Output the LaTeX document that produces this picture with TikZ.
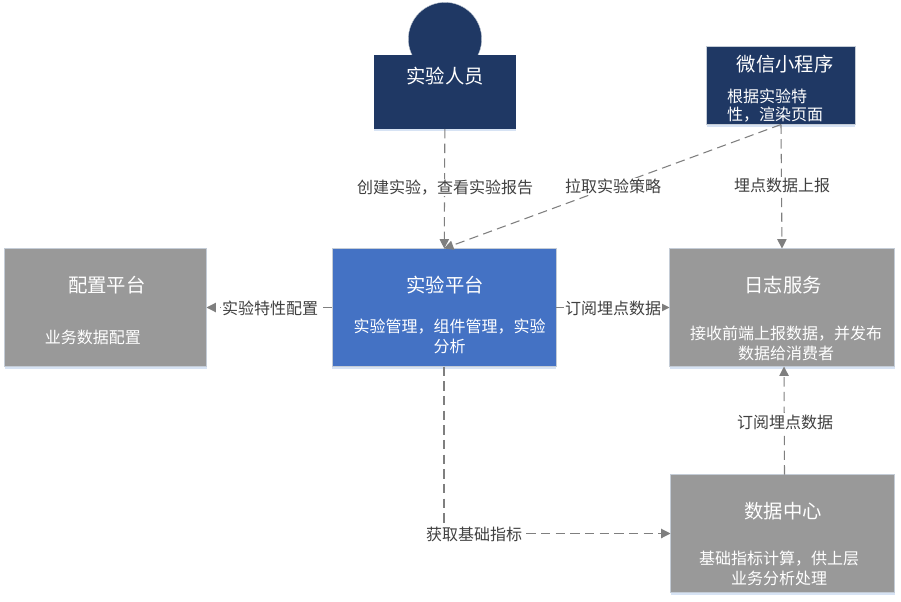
\documentclass[tikz,border=0pt]{standalone}
\usepackage{fontspec}
\setmainfont{Noto Sans CJK SC}
\usetikzlibrary{arrows.meta,shadows}
\definecolor{navy}{HTML}{1F3864}
\definecolor{platblue}{HTML}{4472C4}
\definecolor{boxgray}{HTML}{999999}
\definecolor{linegray}{HTML}{7F7F7F}
\definecolor{textgray}{HTML}{404040}
\definecolor{edgeblue}{HTML}{C4CCD6}
\definecolor{shadowblue}{HTML}{BDD0EC}
\begin{document}
\begin{tikzpicture}
    	[x=0.75pt, y=-0.75pt,
    	block/.style={rectangle, draw=edgeblue, line width=0.5pt, inner sep=0pt, outer sep=0pt,
    		drop shadow={shadow xshift=0pt, shadow yshift=-1.5pt, fill=shadowblue, opacity=0.6}},
    	title/.style={text=white, font=\fontsize{14.5}{17}\selectfont, inner sep=0pt},
    	sub/.style={text=white, font=\fontsize{12}{#1}\selectfont, align=center, inner sep=0pt},
    	sub/.default=15.5pt,
    	flow/.style={draw=linegray, line width=0.8pt, dash pattern=on 7pt off 4pt, -{Triangle[length=7pt, width=7pt]}},
    	tag/.style={fill=white, text=textgray, font=\fontsize{12}{14}\selectfont, inner xsep=0.5pt, inner ysep=1pt}]
    	
    	\useasboundingbox (0,0) rectangle (901,601);
    	
    	\node[circle, fill=navy, draw=edgeblue, line width=0.3pt, minimum size=55pt, inner sep=0pt] (head) at (445,39) {};
    	\node[block, draw=none, fill=navy, minimum width=106.5pt, minimum height=55.5pt] (person) at (445,92) {};
    	\node[block, fill=navy, minimum width=111.5pt, minimum height=58.5pt] (wechat) at (781,85.5) {};
    	\node[block, fill=platblue, minimum width=168pt, minimum height=88.5pt] (plat) at (444,307.5) {};
    	\node[block, fill=boxgray, minimum width=151.5pt, minimum height=88.5pt] (config) at (105.5,307.5) {};
    	\node[block, fill=boxgray, minimum width=168.75pt, minimum height=88.5pt] (log) at (782,307.5) {};
    	\node[block, fill=boxgray, minimum width=168pt, minimum height=88.5pt] (data) at (782.5,533.5) {};
    	
    	\node[title] (personT) at (445,76.5) {实验人员};
    	\node[title] (wechatT) at (785,64) {微信小程序};
    	\node[title] (platT) at (445,285) {实验平台};
    	\node[title] (configT) at (107,285) {配置平台};
    	\node[title] (logT) at (783,285) {日志服务};
    	\node[title] (dataT) at (783,511) {数据中心};
    	
    	\node[sub=13.5pt, align=left] (wechatS) at (775,106) {根据实验特\\性，渲染页面};
    	\node[sub] (platS) at (449.5,336.5) {实验管理，组件管理，实验\\分析};
    	\node[sub] (configS) at (93,337) {业务数据配置};
    	\node[sub=14.5pt] (logS) at (786,343.5) {接收前端上报数据，并发布\\数据给消费者};
    	\node[sub] (dataS) at (779,568.5) {基础指标计算，供上层\\业务分析处理};
    	
    	\draw[flow] (person) -- (plat);
    	\draw[flow] (wechat.south) -- (plat.north);
    	\draw[flow] (wechat.south) -- (log.north);
    	\draw[flow] (plat) -- (config);
    	\draw[flow] (plat) -- (log);
    	\draw[flow] ([xshift=1.5pt]data.north) -- ([xshift=1.5pt]log.south);
    	\draw[flow] (plat.south) |- (data.west);
    	
    	\node[tag] (createL) at (445,187.5) {创建实验，查看实验报告};
    	\node[tag] (pullL) at (613,186.5) {拉取实验策略};
    	\node[tag] (reportL) at (782,185.5) {埋点数据上报};
    	\node[tag] (attrL) at (270,308) {实验特性配置};
    	\node[tag] (subL) at (613,308) {订阅埋点数据};
    	\node[tag] (sub2L) at (785,422) {订阅埋点数据};
    	\node[tag] (metricL) at (474,534) {获取基础指标};
    \end{tikzpicture}
\end{document}
